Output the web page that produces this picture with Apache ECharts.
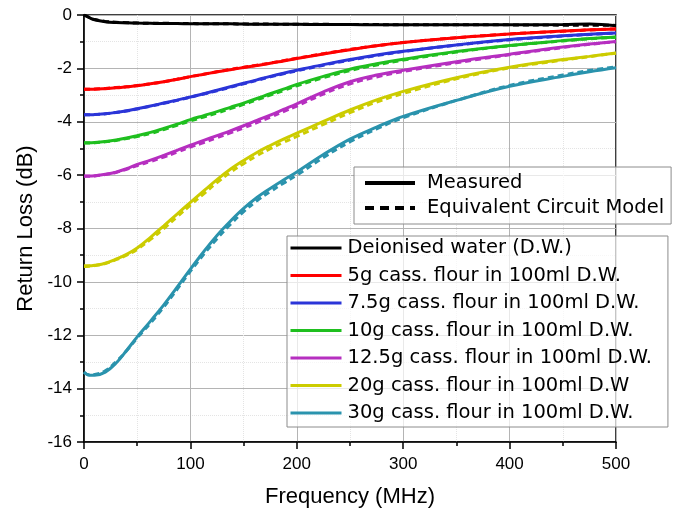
<!DOCTYPE html>
<html>
<head>
<meta charset="utf-8">
<script src="https://cdn.jsdelivr.net/npm/echarts@6.0.0/dist/echarts.min.js"></script>
<style>
html,body{margin:0;padding:0;background:#fff;}
#chart{width:680px;height:513px;}
</style>
</head>
<body>
<div id="chart"></div>
<script>
// Frequency samples (MHz)
var freq = [0, 5, 10, 20, 30, 40, 50, 62.5, 75, 87.5, 100, 112.5, 125, 137.5, 150, 162.5, 175, 187.5, 200, 225, 250, 275, 300, 350, 400, 450, 475, 500];

// Measured return loss (dB)
var dwMeas   = [0, -0.1, -0.18, -0.25, -0.28, -0.29, -0.3, -0.31, -0.32, -0.32, -0.33, -0.33, -0.33, -0.33, -0.34, -0.35, -0.35, -0.35, -0.35, -0.36, -0.36, -0.37, -0.37, -0.37, -0.37, -0.36, -0.34, -0.4];
var g5Meas   = [-2.78, -2.78, -2.78, -2.76, -2.73, -2.69, -2.65, -2.58, -2.5, -2.41, -2.31, -2.22, -2.13, -2.05, -1.97, -1.89, -1.81, -1.72, -1.63, -1.46, -1.3, -1.15, -1.03, -0.85, -0.71, -0.6, -0.55, -0.52];
var g75Meas  = [-3.74, -3.74, -3.73, -3.7, -3.65, -3.59, -3.51, -3.41, -3.3, -3.19, -3.07, -2.95, -2.82, -2.69, -2.56, -2.43, -2.3, -2.18, -2.07, -1.86, -1.67, -1.5, -1.36, -1.12, -0.92, -0.78, -0.72, -0.67];
var g10Meas  = [-4.79, -4.79, -4.78, -4.74, -4.68, -4.61, -4.52, -4.4, -4.25, -4.09, -3.92, -3.77, -3.62, -3.46, -3.3, -3.13, -2.95, -2.78, -2.6, -2.3, -2.03, -1.83, -1.66, -1.37, -1.14, -0.96, -0.88, -0.82];
var g125Meas = [-6.03, -6.03, -6.02, -5.97, -5.89, -5.76, -5.6, -5.44, -5.26, -5.07, -4.88, -4.7, -4.52, -4.34, -4.15, -3.95, -3.75, -3.54, -3.33, -2.88, -2.5, -2.25, -2.07, -1.75, -1.47, -1.2, -1.09, -0.99];
var g20Meas  = [-9.4, -9.4, -9.38, -9.3, -9.15, -8.97, -8.73, -8.33, -7.9, -7.46, -7.02, -6.59, -6.17, -5.78, -5.45, -5.15, -4.89, -4.65, -4.43, -3.99, -3.56, -3.18, -2.86, -2.35, -1.96, -1.67, -1.55, -1.42];
var g30Meas  = [-13.38, -13.5, -13.5, -13.38, -13.05, -12.57, -12.06, -11.47, -10.86, -10.2, -9.52, -8.87, -8.26, -7.73, -7.25, -6.84, -6.5, -6.18, -5.88, -5.23, -4.65, -4.2, -3.8, -3.2, -2.67, -2.3, -2.13, -1.98];

// Equivalent circuit model (dB)
var dwModel   = [0, -0.09, -0.17, -0.24, -0.27, -0.29, -0.3, -0.31, -0.31, -0.32, -0.32, -0.33, -0.33, -0.33, -0.34, -0.34, -0.34, -0.35, -0.35, -0.35, -0.36, -0.36, -0.37, -0.37, -0.37, -0.38, -0.38, -0.39];
var g5Model   = [-2.78, -2.78, -2.77, -2.75, -2.72, -2.69, -2.64, -2.58, -2.5, -2.41, -2.31, -2.22, -2.13, -2.04, -1.96, -1.88, -1.8, -1.71, -1.62, -1.45, -1.29, -1.15, -1.03, -0.85, -0.71, -0.61, -0.56, -0.52];
var g75Model  = [-3.74, -3.74, -3.73, -3.7, -3.65, -3.6, -3.52, -3.42, -3.31, -3.2, -3.08, -2.96, -2.84, -2.71, -2.58, -2.45, -2.32, -2.2, -2.09, -1.88, -1.69, -1.52, -1.37, -1.13, -0.93, -0.79, -0.73, -0.68];
var g10Model  = [-4.8, -4.8, -4.79, -4.75, -4.7, -4.63, -4.55, -4.44, -4.29, -4.13, -3.97, -3.82, -3.67, -3.51, -3.35, -3.18, -3.0, -2.83, -2.65, -2.35, -2.08, -1.87, -1.69, -1.39, -1.15, -0.97, -0.89, -0.83];
var g125Model = [-6.04, -6.04, -6.03, -5.98, -5.9, -5.78, -5.64, -5.49, -5.32, -5.14, -4.95, -4.78, -4.6, -4.42, -4.23, -4.03, -3.83, -3.62, -3.41, -2.96, -2.58, -2.32, -2.12, -1.79, -1.49, -1.22, -1.1, -1.0];
var g20Model  = [-9.42, -9.41, -9.39, -9.31, -9.17, -9.0, -8.78, -8.41, -8.0, -7.56, -7.12, -6.7, -6.28, -5.9, -5.57, -5.27, -5.01, -4.77, -4.55, -4.1, -3.66, -3.26, -2.94, -2.39, -1.98, -1.69, -1.56, -1.43];
var g30Model  = [-13.4, -13.48, -13.47, -13.33, -13.0, -12.58, -12.1, -11.54, -10.94, -10.28, -9.6, -8.97, -8.38, -7.85, -7.37, -6.96, -6.62, -6.3, -6.0, -5.34, -4.75, -4.27, -3.85, -3.2, -2.64, -2.25, -2.08, -1.94];

var names = ['Deionised water (D.W.)', '5g cass. flour in 100ml D.W.', '7.5g cass. flour in 100ml D.W.',
  '10g cass. flour in 100ml D.W.', '12.5g cass. flour in 100ml D.W.', '20g cass. flour in 100ml D.W',
  '30g cass. flour in 100ml D.W.'];
var colors = ['#000000', '#ff0000', '#2b35d8', '#1fbf1f', '#b62fc0', '#cccc00', '#2a93ad'];
var measSets = [dwMeas, g5Meas, g75Meas, g10Meas, g125Meas, g20Meas, g30Meas];
var modelSets = [dwModel, g5Model, g75Model, g10Model, g125Model, g20Model, g30Model];

function pairs(vals) { return freq.map(function (f, i) { return [f, vals[i]]; }); }

var series = [];
measSets.forEach(function (vals, i) {
  series.push({
    name: names[i], type: 'line', data: pairs(vals), showSymbol: false, symbol: 'none',
    smooth: 0.4, color: colors[i], lineStyle: { width: 3, color: colors[i] }, z: 3
  });
});
modelSets.forEach(function (vals, i) {
  series.push({
    name: names[i] + ' (model)', type: 'line', data: pairs(vals), showSymbol: false, symbol: 'none',
    smooth: 0.4, color: colors[i], lineStyle: { width: 3, color: colors[i], type: [6, 4] }, z: 4
  });
});
series.push({ name: 'Measured', type: 'line', data: [], symbol: 'none', color: '#000',
  lineStyle: { width: 4, color: '#000' } });
series.push({ name: 'Equivalent Circuit Model', type: 'line', data: [], symbol: 'none', color: '#000',
  lineStyle: { width: 4, color: '#000', type: [9, 6] } });

var tickFont = { color: '#000', fontSize: 17, fontFamily: 'Liberation Sans, Arial, sans-serif' };
var legendText = { color: '#000', fontSize: 19.5, fontFamily: 'DejaVu Sans, sans-serif', lineHeight: 22 };
var hiddenSymbol = { color: 'rgba(0,0,0,0)', borderWidth: 0, borderColor: 'rgba(0,0,0,0)', opacity: 0 };

var chart = echarts.init(document.getElementById('chart'), null, { renderer: 'canvas' });
chart.setOption({
  animation: false,
  backgroundColor: '#fff',
  grid: { left: 84, right: 64, top: 15, bottom: 70, show: true, borderColor: '#000', borderWidth: 1.5, backgroundColor: 'transparent' },
  xAxis: {
    type: 'value', min: 0, max: 500, interval: 100,
    name: 'Frequency (MHz)', nameLocation: 'middle', nameGap: 44,
    nameTextStyle: { color: '#000', fontSize: 22, fontFamily: 'Liberation Sans, Arial, sans-serif' },
    axisLine: { show: true, onZero: false, lineStyle: { color: '#000', width: 1.5 } },
    axisTick: { show: true, inside: false, length: 7, lineStyle: { color: '#000', width: 1.5 } },
    minorTick: { show: true, splitNumber: 2, length: 4, lineStyle: { color: '#000', width: 1.5 } },
    axisLabel: Object.assign({ margin: 14 }, tickFont),
    splitLine: { show: true, lineStyle: { color: '#b4b4b4', width: 1 } },
    minorSplitLine: { show: true, lineStyle: { color: '#e4e4e4', width: 1, type: 'dotted' } }
  },
  yAxis: {
    type: 'value', min: -16, max: 0, interval: 2,
    name: 'Return Loss (dB)', nameLocation: 'middle', nameGap: 45,
    nameTextStyle: { color: '#000', fontSize: 22, fontFamily: 'Liberation Sans, Arial, sans-serif' },
    axisLine: { show: true, onZero: false, lineStyle: { color: '#000', width: 1.5 } },
    axisTick: { show: true, inside: false, length: 7, lineStyle: { color: '#000', width: 1.5 } },
    minorTick: { show: true, splitNumber: 2, length: 4, lineStyle: { color: '#000', width: 1.5 } },
    axisLabel: Object.assign({ margin: 12 }, tickFont),
    splitLine: { show: true, lineStyle: { color: '#b4b4b4', width: 1 } },
    minorSplitLine: { show: true, lineStyle: { color: '#e4e4e4', width: 1, type: 'dotted' } }
  },
  legend: [
    {
      data: ['Measured', 'Equivalent Circuit Model'],
      orient: 'vertical', left: 354, top: 167, itemWidth: 50, itemHeight: 14, itemGap: 3,
      padding: [5, 7, 5, 9], selectedMode: false,
      backgroundColor: 'rgba(255,255,255,0.7)', borderColor: '#8c8c8c', borderWidth: 1, borderRadius: 0,
      lineStyle: { width: 4 }, itemStyle: hiddenSymbol,
      textStyle: Object.assign({ padding: [0, 0, 0, 7] }, legendText)
    },
    {
      data: names,
      orient: 'vertical', left: 287, top: 236, itemWidth: 51, itemHeight: 14, itemGap: 5.5,
      padding: [1, 16, 3, 2], selectedMode: false,
      backgroundColor: 'rgba(255,255,255,0.7)', borderColor: '#8c8c8c', borderWidth: 1, borderRadius: 0,
      lineStyle: { width: 3 }, itemStyle: hiddenSymbol,
      textStyle: Object.assign({ padding: [0, 0, 0, 1] }, legendText)
    }
  ],
  series: series
});
</script>
</body>
</html>
